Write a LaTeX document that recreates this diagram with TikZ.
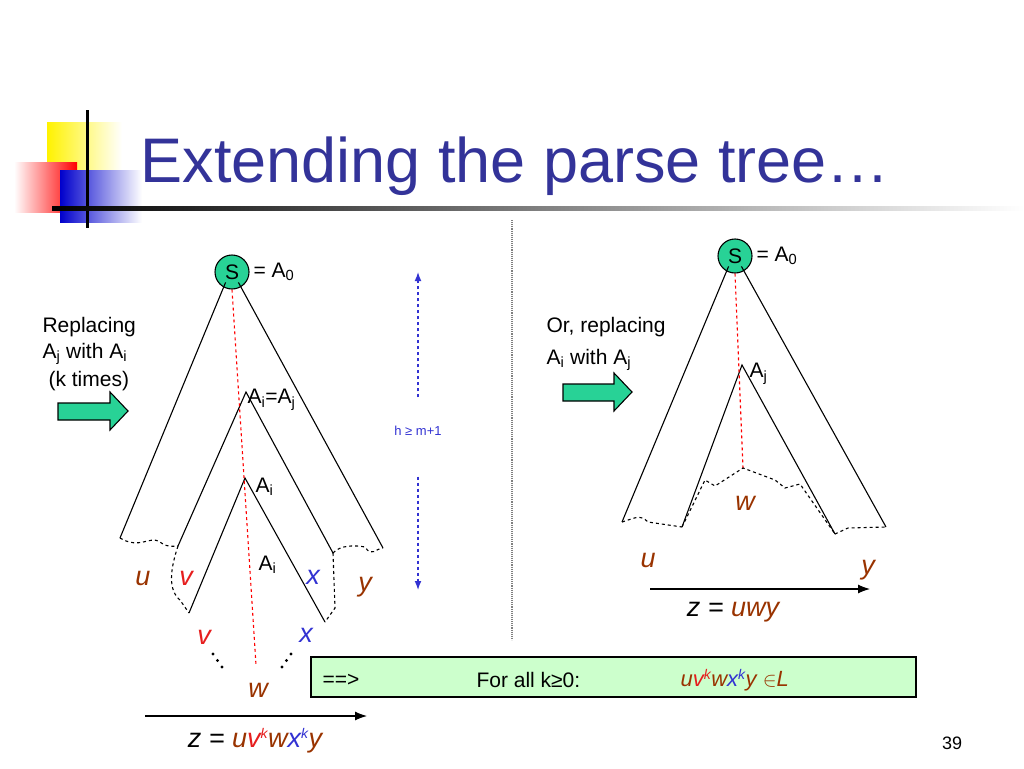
\documentclass[tikz,border=0pt]{standalone}
\usepackage{fontspec}
\setmainfont{Liberation Sans}
\usetikzlibrary{arrows.meta}
\definecolor{titleblue}{RGB}{51,51,153}
\definecolor{nodegreen}{RGB}{40,210,150}
\definecolor{boxgreen}{RGB}{204,255,204}
\definecolor{wbrown}{RGB}{153,51,0}
\definecolor{vred}{RGB}{230,30,30}
\definecolor{xblue}{RGB}{50,50,210}
\tikzset{
  every picture/.style={line width=1.1pt},
  snode/.style={circle,draw,fill=nodegreen,minimum size=34pt,inner sep=0pt,font=\fontsize{21}{23}\selectfont},
  txt/.style={font=\fontsize{21}{25}\selectfont,inner sep=0pt},
  var/.style={font=\fontsize{27}{29}\selectfont\itshape,inner sep=0pt},
  redpath/.style={red,dashed},
  edge/.style={dashed},
  blockarrow/.style={draw,fill=nodegreen}
}
\newcommand{\supk}{\textsuperscript{\fontsize{14}{14}\selectfont k}}
\begin{document}
\begin{tikzpicture}[x=1pt,y=-1pt]
	\useasboundingbox (0,0) rectangle (1024,768);
	
	% logo
	\shade[left color=yellow!90!orange,right color=white] (47,122) rectangle (122,205);
	\shade[left color=white,right color=red] (14,162) rectangle (77,212);
	\shade[left color=blue!80!black,right color=white] (60,170) rectangle (142,222);
	\draw[line width=3pt] (87,110) -- (87,228);
	\shade[left color=black,right color=white] (52,206) rectangle (1024,210);
	\node[anchor=base west,inner sep=0pt,text=titleblue,font=\fontsize{63}{65}\selectfont] (title) at (140,182) {Extending the parse tree\ldots};
	
	% left tree
	\node[snode] (S1) at (232,272) {S};
	\node[txt,anchor=west] (A0l) at (S1.east) {\,= A\textsubscript{0}};
	\coordinate (L1) at (120,538);
	\coordinate (R1) at (383,548);
	\coordinate (T2) at (246,392);
	\coordinate (L2) at (178,546);
	\coordinate (R2) at (333,553);
	\coordinate (T3) at (245,478);
	\coordinate (L3) at (189,613);
	\coordinate (R3) at (325,622);
	\draw (S1.south west) ++(6,-2) -- (L1);
	\draw (S1.south east) ++(-6,-2) -- (R1);
	\draw (L2) -- (T2) -- (R2);
	\draw (L3) -- (T3) -- (R3);
	\draw[edge] (L1) .. controls (140,550) and (150,535) .. (160,542) .. controls (168,548) and (172,546) .. (L2);
	\draw[edge] (R2) .. controls (340,545) and (355,545) .. (365,547) .. controls (372,558) and (376,548) .. (R1);
	\draw[edge] (L2) .. controls (170,570) and (168,590) .. (180,600) -- (L3);
	\draw[edge] (R2) -- (335,608) -- (R3);
	\coordinate (W1) at (256,665);
	\draw[redpath] (S1.south) -- (W1);
	\node[txt,anchor=west] (AiAj) at (247,400) {A\textsubscript{i}=A\textsubscript{j}};
	\node[txt,anchor=west] (Ai1) at (255,487) {A\textsubscript{i}};
	\node[txt,anchor=west] (Ai2) at (258,565) {A\textsubscript{i}};
	\node[var,text=wbrown] (u1) at (143,578) {u};
	\node[var,text=vred] (v1) at (186,578) {v};
	\node[var,text=xblue] (x1) at (313,577) {x};
	\node[var,text=wbrown] (y1) at (365,587) {y};
	\node[var,text=vred] (v2) at (204,637) {v};
	\node[var,text=xblue] (x2) at (306,635) {x};
	\foreach \t in {0,1,2} {
	  \fill (213+4.5*\t,654+6.5*\t) circle (1.7pt);
	  \fill (291-4.5*\t,654+6.5*\t) circle (1.7pt);
	}
	\node[var,text=wbrown] (w1) at (258,690) {w};
	\coordinate (z1s) at (145,716);
	\coordinate (z1e) at (367,716);
	\draw[-{Latex[length=12pt]}] (z1s) -- (z1e);
	\node[var] (z1) at (255,741) {z = \textcolor{wbrown}{u}\textcolor{vred}{v\supk}\textcolor{wbrown}{w}\textcolor{xblue}{x\supk}\textcolor{wbrown}{y}};
	
	% height arrow
	\node[text=xblue,font=\fontsize{13}{15}\selectfont] (h) at (418,431) {h ≥ m+1};
	\coordinate (htop) at (418,272);
	\coordinate (hbot) at (418,590);
	\draw[xblue,dashed,-{Latex[length=9pt]}] (h.north) ++(0,-25) -- (htop);
	\draw[xblue,dashed,-{Latex[length=9pt]}] (h.south) ++(0,37) -- (hbot);
	
	% separator
	\draw[gray,densely dotted] (512,220) -- (512,640);
	
	% left text and arrow
	\node[txt,anchor=west] (rep1) at (42,327) {Replacing};
	\node[txt,anchor=west] (rep2) at (42,354) {A\textsubscript{j} with A\textsubscript{i}};
	\node[txt,anchor=west] (rep3) at (48,381) {(k times)};
	\draw[blockarrow] (58,403) -- (110,403) -- (110,392) -- (128,411) -- (110,430) -- (110,420) -- (58,420) -- cycle;
	
	% right text and arrow
	\node[txt,anchor=west] (or1) at (546,327) {Or, replacing};
	\node[txt,anchor=west] (or2) at (546,360) {A\textsubscript{i} with A\textsubscript{j}};
	\draw[blockarrow] (563,384) -- (614,384) -- (614,373) -- (632,392) -- (614,411) -- (614,401) -- (563,401) -- cycle;
	
	% right tree
	\node[snode] (S2) at (735,256) {S};
	\node[txt,anchor=west] (A0r) at (S2.east) {\,= A\textsubscript{0}};
	\coordinate (L4) at (622,522);
	\coordinate (R4) at (886,527);
	\coordinate (T5) at (742,365);
	\coordinate (L5) at (682,527);
	\coordinate (R5) at (835,534);
	\draw (S2.south west) ++(6,-2) -- (L4);
	\draw (S2.south east) ++(-6,-2) -- (R4);
	\draw (L5) -- (T5) -- (R5);
	\coordinate (W2) at (743,468);
	\draw[redpath] (S2.south) -- (W2);
	\draw[edge] (L4) .. controls (635,518) and (640,514) .. (648,522) -- (L5);
	\draw[edge] (L5) -- (705,480) -- (715,486) -- (W2) -- (775,480) -- (785,488) -- (800,484) -- (R5);
	\draw[edge] (R5) -- (848,528) -- (R4);
	\node[txt,anchor=west] (Aj) at (749,374) {A\textsubscript{j}};
	\node[var,text=wbrown] (w2) at (745,503) {w};
	\node[var,text=wbrown] (u2) at (648,560) {u};
	\node[var,text=wbrown] (y2) at (868,570) {y};
	\coordinate (z2s) at (650,589);
	\coordinate (z2e) at (870,589);
	\draw[-{Latex[length=12pt]}] (z2s) -- (z2e);
	\node[var] (z2) at (733,612) {z = \textcolor{wbrown}{uwy}};
	
	% result box
	\draw[fill=boxgreen] (311,657) rectangle (916,697);
	\node[txt,anchor=west] (impl) at (322,680) {==>};
	\node[txt,anchor=west] (fall) at (476,680) {For all k≥0:};
	\node[txt,anchor=west,font=\fontsize{22}{24}\selectfont\itshape] (res) at (680,680) {\textcolor{wbrown}{u}\textcolor{vred}{v\supk}\textcolor{wbrown}{w}\textcolor{xblue}{x\supk}\textcolor{wbrown}{y} \textcolor{wbrown}{$\in$L}};
	
	\node[font=\fontsize{18}{20}\selectfont] (page) at (952,743) {39};
\end{tikzpicture}
\end{document}
